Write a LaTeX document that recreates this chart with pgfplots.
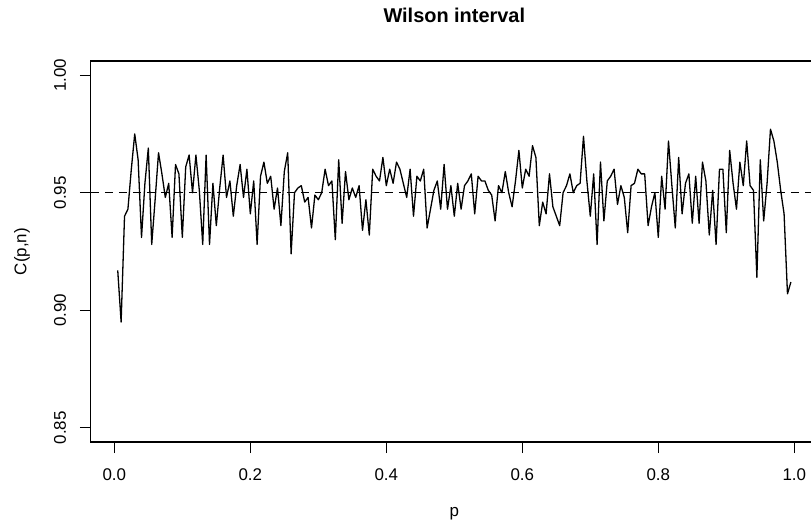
\documentclass[border=0pt]{standalone}
\usepackage{pgfplots}
\pgfplotsset{compat=1.18}
\usepackage{pgfplotstable}
\usepackage{fontspec}
\setmainfont{Liberation Sans}
\usetikzlibrary{calc}

\pgfplotstableread{
p C
0.005 0.917
0.010 0.895
0.015 0.940
0.020 0.943
0.025 0.960
0.030 0.975
0.035 0.964
0.040 0.931
0.045 0.954
0.050 0.969
0.055 0.928
0.060 0.947
0.065 0.967
0.070 0.958
0.075 0.948
0.080 0.954
0.085 0.931
0.090 0.962
0.095 0.958
0.100 0.931
0.105 0.961
0.110 0.966
0.115 0.950
0.120 0.966
0.125 0.951
0.130 0.928
0.135 0.966
0.140 0.928
0.145 0.954
0.150 0.936
0.155 0.952
0.160 0.966
0.165 0.948
0.170 0.955
0.175 0.940
0.180 0.953
0.185 0.962
0.190 0.948
0.195 0.960
0.200 0.941
0.205 0.955
0.210 0.928
0.215 0.957
0.220 0.963
0.225 0.954
0.230 0.957
0.235 0.943
0.240 0.952
0.245 0.936
0.250 0.959
0.255 0.967
0.260 0.924
0.265 0.950
0.270 0.952
0.275 0.953
0.280 0.946
0.285 0.948
0.290 0.935
0.295 0.949
0.300 0.947
0.305 0.950
0.310 0.960
0.315 0.953
0.320 0.955
0.325 0.930
0.330 0.964
0.335 0.937
0.340 0.959
0.345 0.947
0.350 0.952
0.355 0.948
0.360 0.953
0.365 0.934
0.370 0.947
0.375 0.932
0.380 0.960
0.385 0.957
0.390 0.955
0.395 0.965
0.400 0.953
0.405 0.960
0.410 0.954
0.415 0.963
0.420 0.960
0.425 0.954
0.430 0.948
0.435 0.960
0.440 0.940
0.445 0.957
0.450 0.955
0.455 0.960
0.460 0.935
0.465 0.943
0.470 0.951
0.475 0.955
0.480 0.943
0.485 0.962
0.490 0.943
0.495 0.953
0.500 0.940
0.505 0.954
0.510 0.943
0.515 0.953
0.520 0.955
0.525 0.958
0.530 0.941
0.535 0.957
0.540 0.955
0.545 0.955
0.550 0.951
0.555 0.949
0.560 0.938
0.565 0.953
0.570 0.950
0.575 0.959
0.580 0.950
0.585 0.944
0.590 0.955
0.595 0.968
0.600 0.952
0.605 0.960
0.610 0.957
0.615 0.970
0.620 0.965
0.625 0.936
0.630 0.946
0.635 0.941
0.640 0.958
0.645 0.944
0.650 0.940
0.655 0.936
0.660 0.950
0.665 0.953
0.670 0.958
0.675 0.950
0.680 0.953
0.685 0.954
0.690 0.974
0.695 0.955
0.700 0.940
0.705 0.958
0.710 0.928
0.715 0.963
0.720 0.938
0.725 0.955
0.730 0.957
0.735 0.960
0.740 0.945
0.745 0.953
0.750 0.948
0.755 0.933
0.760 0.953
0.765 0.954
0.770 0.960
0.775 0.958
0.780 0.958
0.785 0.936
0.790 0.944
0.795 0.950
0.800 0.931
0.805 0.957
0.810 0.943
0.815 0.972
0.820 0.953
0.825 0.935
0.830 0.965
0.835 0.941
0.840 0.954
0.845 0.958
0.850 0.937
0.855 0.957
0.860 0.937
0.865 0.963
0.870 0.955
0.875 0.932
0.880 0.951
0.885 0.928
0.890 0.960
0.895 0.960
0.900 0.933
0.905 0.968
0.910 0.954
0.915 0.943
0.920 0.963
0.925 0.953
0.930 0.972
0.935 0.953
0.940 0.951
0.945 0.914
0.950 0.964
0.955 0.938
0.960 0.954
0.965 0.977
0.970 0.972
0.975 0.963
0.980 0.951
0.985 0.941
0.990 0.907
0.995 0.912
}\coverage

\begin{document}
\begin{tikzpicture}
\begin{axis}[
  name=ax,
  scale only axis,
  width=727bp, height=381bp,
  xmin=-0.0346, xmax=1.0346,
  ymin=0.844, ymax=1.006,
  xtick={0,0.2,0.4,0.6,0.8,1},
  xticklabels={0.0,0.2,0.4,0.6,0.8,1.0},
  ytick={0.85,0.90,0.95,1.00},
  yticklabels={0.85,0.90,0.95,1.00},
  xtick pos=left, ytick pos=left,
  tick align=outside,
  major tick length=11bp,
  tick style={black, line width=0.9bp},
  axis line style={black, line width=1.1bp},
  ticklabel style={font=\fontsize{17}{20}\selectfont},
  xticklabel style={anchor=base},
  xticklabel shift=27bp,
  yticklabel style={rotate=90, anchor=base},
  yticklabel shift=14bp,
  title={Wilson interval},
  title style={font=\fontsize{20}{24}\selectfont\bfseries, at={(axis description cs:0.5,1.0866)}, anchor=base},
  xlabel={p},
  xlabel style={font=\fontsize{17}{20}\selectfont, at={(axis description cs:0.5,-0.1955)}, anchor=base},
  ylabel={C(p,n)},
  ylabel style={font=\fontsize{17}{20}\selectfont, at={(axis description cs:-0.0886,0.5)}, anchor=base, rotate=0},
]
\addplot[black, line width=0.9bp, dash pattern=on 8bp off 6bp] coordinates {(-0.0346,0.95) (1.0346,0.95)};
\addplot[black, line width=1.3bp, line join=round] table[x=p, y=C] {\coverage};
\end{axis}
\pgfresetboundingbox
\path[use as bounding box] ($(ax.south west)+(-90.8bp,-80bp)$) rectangle ++(811bp,522bp);
\end{tikzpicture}
\end{document}
